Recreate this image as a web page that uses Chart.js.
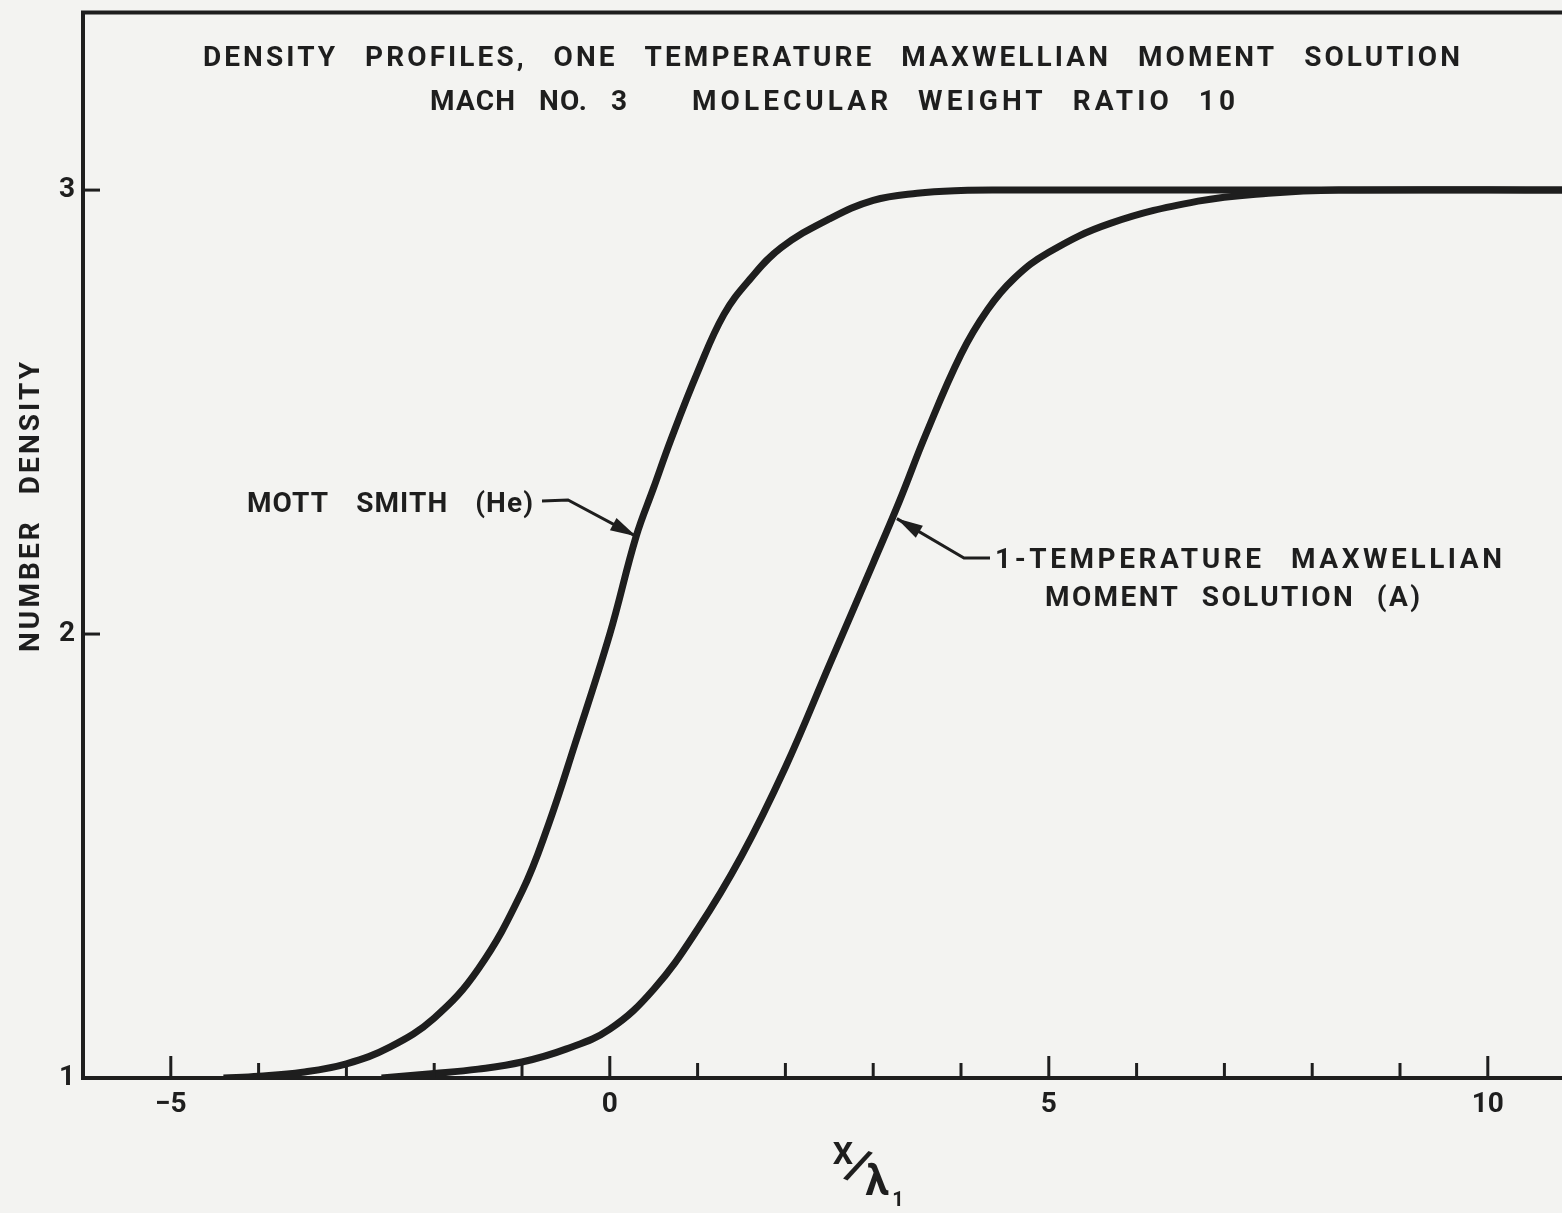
<!DOCTYPE html>
<html>
<head>
<meta charset="utf-8">
<title>Density profiles</title>
<script src="https://cdn.jsdelivr.net/npm/chart.js@4.4.0/dist/chart.umd.min.js"></script>
<style>
html, body { margin: 0; padding: 0; background: #f3f3f1; overflow: hidden; }
#wrap { position: absolute; left: 0; top: 0; width: 1600px; height: 1213px; }
</style>
</head>
<body>
<div id="wrap"><canvas id="densityChart" width="1600" height="1213"></canvas></div>
<script>
// values (x / lambda_1 , number density)
const mottSmithX = [-4.4, -4.0, -3.5, -3.0, -2.5, -2.0, -1.5, -1.0, -0.7, -0.4, 0.0, 0.3, 0.5, 0.7, 1.0, 1.3, 1.6, 1.95, 2.5, 3.0, 3.5, 4.0, 4.5, 11];
const mottSmithY = [1.0, 1.004, 1.013, 1.032, 1.07, 1.135, 1.245, 1.42, 1.57, 1.75, 2.00, 2.22, 2.33, 2.44, 2.59, 2.72, 2.80, 2.87, 2.935, 2.977, 2.993, 2.999, 3.0, 3.0];
const momentX = [-2.6, -2.0, -1.5, -1.0, -0.5, 0, 0.5, 1.0, 1.5, 2.0, 2.5, 3.0, 3.3, 3.6, 4.0, 4.3, 4.6, 5.0, 5.7, 6.7, 7.5, 8.3, 11];
const momentY = [1.0, 1.01, 1.02, 1.036, 1.065, 1.11, 1.20, 1.335, 1.50, 1.70, 1.93, 2.16, 2.30, 2.45, 2.63, 2.73, 2.80, 2.86, 2.925, 2.975, 2.993, 3.0, 3.0];

const xLabelled = [-5, 0, 5, 10];
const yLabelled = [1, 2, 3];
const titleLine1 = "DENSITY PROFILES, ONE TEMPERATURE MAXWELLIAN MOMENT SOLUTION";
const titleLine2a = "MACH NO. 3";
const titleLine2b = "MOLECULAR WEIGHT RATIO 10";
const mottLabel = "MOTT SMITH (He)";
const momentLabel = ["1-TEMPERATURE MAXWELLIAN", "MOMENT SOLUTION (A)"];
const yTitle = "NUMBER DENSITY";

const INK = '#1e1e1e';
const FONT = 'Roboto';

function toPoints(xs, ys) {
    return xs.map((x, i) => ({ x: x, y: ys[i] }));
}

// lettering: fixed word gap, letter spacing stretched so the text runs x0..x1
function fitText(ctx, text, x0, x1, yMid, size, gap) {
    ctx.font = 'bold ' + size + 'px ' + FONT;
    ctx.textAlign = 'left';
    ctx.textBaseline = 'alphabetic';
    ctx.letterSpacing = '0px';
    const words = text.split(' ');
    const widths = words.map(w => ctx.measureText(w).width);
    const natural = widths.reduce((a, b) => a + b, 0);
    const inner = words.reduce((n, w) => n + w.length - 1, 0);
    const ls = (x1 - x0 - natural - gap * (words.length - 1)) / inner;
    ctx.letterSpacing = ls + 'px';
    const base = yMid + size * 0.711 / 2;
    let x = x0;
    words.forEach((w, i) => {
        ctx.fillText(w, x, base);
        x += widths[i] + ls * (w.length - 1) + gap;
    });
    ctx.letterSpacing = '0px';
}

function arrow(ctx, pts) {
    ctx.beginPath();
    ctx.moveTo(pts[0][0], pts[0][1]);
    for (let i = 1; i < pts.length; i++) ctx.lineTo(pts[i][0], pts[i][1]);
    ctx.lineWidth = 3;
    ctx.stroke();
    const [tx, ty] = pts[pts.length - 1];
    const [px, py] = pts[pts.length - 2];
    const a = Math.atan2(ty - py, tx - px);
    const len = 26, half = 7;
    ctx.beginPath();
    ctx.moveTo(tx, ty);
    ctx.lineTo(tx - len * Math.cos(a) + half * Math.sin(a), ty - len * Math.sin(a) - half * Math.cos(a));
    ctx.lineTo(tx - len * Math.cos(a) - half * Math.sin(a), ty - len * Math.sin(a) + half * Math.cos(a));
    ctx.closePath();
    ctx.fill();
}

const decor = {
    id: 'decor',
    beforeDraw(chart) {
        const ctx = chart.ctx;
        ctx.save();
        ctx.fillStyle = '#f3f3f1';
        ctx.fillRect(0, 0, chart.width, chart.height);
        ctx.restore();
    },
    afterDatasetsDraw(chart) {
        const ctx = chart.ctx, a = chart.chartArea;
        const xs = chart.scales.x, ys = chart.scales.y;
        ctx.save();
        ctx.strokeStyle = INK;
        ctx.lineWidth = 4;
        ctx.strokeRect(a.left, a.top, a.right - a.left, a.bottom - a.top);

        // tick marks pointing into the plot
        ctx.lineWidth = 3;
        xs.ticks.forEach(t => {
            if (t.value <= xs.min || t.value >= xs.max) return;
            const px = xs.getPixelForValue(t.value);
            const len = t.value % 5 === 0 ? 22 : 15;
            ctx.beginPath();
            ctx.moveTo(px, a.bottom);
            ctx.lineTo(px, a.bottom - len);
            ctx.stroke();
        });
        ys.ticks.forEach(t => {
            if (t.value <= ys.min || t.value >= ys.max) return;
            const py = ys.getPixelForValue(t.value);
            ctx.beginPath();
            ctx.moveTo(a.left, py);
            ctx.lineTo(a.left + 17, py);
            ctx.stroke();
        });
        ctx.restore();
    },
    afterDraw(chart) {
        const ctx = chart.ctx;
        const xs = chart.scales.x, ys = chart.scales.y;
        ctx.save();
        ctx.fillStyle = INK;
        ctx.strokeStyle = INK;

        fitText(ctx, titleLine1, 203, 1460, 56, 28, 30);
        fitText(ctx, titleLine2a, 430, 627, 100, 28, 24);
        fitText(ctx, titleLine2b, 692, 1235, 100, 28, 30);

        fitText(ctx, mottLabel, 247, 533, 502, 28, 28);
        arrow(ctx, [[542, 501], [568, 500], [xs.getPixelForValue(0.3), ys.getPixelForValue(2.22)]]);

        fitText(ctx, momentLabel[0], 995, 1502, 558, 28, 30);
        fitText(ctx, momentLabel[1], 1045, 1420, 596, 28, 24);
        arrow(ctx, [[990, 558], [964, 558], [xs.getPixelForValue(3.27), ys.getPixelForValue(2.26)]]);

        // vertical axis title
        ctx.save();
        ctx.translate(29, 0);
        ctx.rotate(-Math.PI / 2);
        fitText(ctx, yTitle, -652, -362, 0, 28, 28);
        ctx.restore();

        // x / lambda_1 axis title, lettered diagonally
        ctx.textAlign = 'center';
        ctx.textBaseline = 'middle';
        ctx.font = 'bold 32px ' + FONT;
        ctx.fillText('X', 843, 1156);
        ctx.save();
        ctx.translate(857, 1169);
        ctx.rotate(0.42);
        ctx.font = 'bold 46px ' + FONT;
        ctx.fillText('/', 0, 0);
        ctx.restore();
        ctx.font = 'bold 42px ' + FONT;
        ctx.fillText('λ', 877, 1184);
        ctx.font = 'bold 20px ' + FONT;
        ctx.fillText('1', 898, 1201);
        ctx.restore();
    }
};

const ctx = document.getElementById('densityChart').getContext('2d');
const densityChart = new Chart(ctx, {
    type: 'line',
    data: {
        datasets: [{
            label: 'Mott Smith (He)',
            data: toPoints(mottSmithX, mottSmithY),
            borderColor: INK,
            borderWidth: 7,
            pointRadius: 0,
            tension: 0.4,
            fill: false
        }, {
            label: '1-Temperature Maxwellian moment solution (A)',
            data: toPoints(momentX, momentY),
            borderColor: INK,
            borderWidth: 7,
            pointRadius: 0,
            tension: 0.4,
            fill: false
        }]
    },
    options: {
        responsive: false,
        devicePixelRatio: 1,
        animation: false,
        events: [],
        layout: { padding: { top: 12.5, right: 24.4, left: 0, bottom: 0 } },
        plugins: {
            legend: { display: false },
            tooltip: { enabled: false },
            title: { display: false }
        },
        scales: {
            x: {
                type: 'linear',
                min: -6,
                max: 11,
                grid: { display: false, drawTicks: false },
                border: { display: false },
                afterFit(scale) {
                    scale.height = 135;
                    scale.paddingLeft = 0;
                    scale.paddingRight = 0;
                },
                ticks: {
                    stepSize: 1,
                    autoSkip: false,
                    maxRotation: 0,
                    padding: 10,
                    color: INK,
                    font: { family: FONT, size: 28, weight: 'bold' },
                    callback: v => xLabelled.includes(v) ? String(v).replace('-', '\u2212') : ''
                }
            },
            y: {
                type: 'linear',
                min: 1,
                max: 3.4,
                grid: { display: false, drawTicks: false },
                border: { display: false },
                afterFit(scale) {
                    scale.width = 83;
                    scale.paddingTop = 0;
                    scale.paddingBottom = 0;
                },
                ticks: {
                    stepSize: 1,
                    includeBounds: false,
                    padding: 8,
                    color: INK,
                    font: { family: FONT, size: 28, weight: 'bold' },
                    callback: v => yLabelled.includes(v) ? String(v) : ''
                }
            }
        }
    },
    plugins: [decor]
});
</script>
</body>
</html>
